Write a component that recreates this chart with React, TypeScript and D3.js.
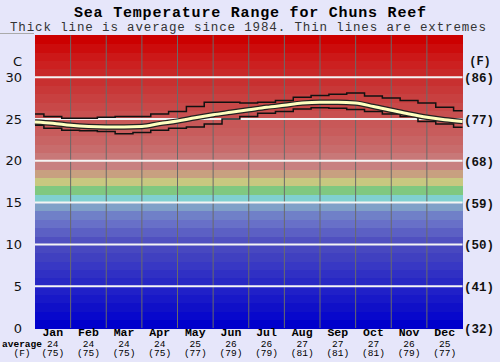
import React from 'react';
import * as d3 from 'd3';

// month positions (0 = 1 Jan, 12 = 31 Dec), sampled every half month
const samplePos = [0, 0.5, 1, 1.5, 2, 2.5, 3, 3.5, 4, 4.5, 5, 5.5, 6, 6.5, 7, 7.5, 8, 8.5, 9, 9.5, 10, 10.5, 11, 11.5, 12];
const avgTemp = [24.65, 24.5, 24.25, 24.1, 24.05, 24.05, 24.1, 24.45, 24.75, 25.15, 25.5, 25.8, 26.1, 26.4, 26.65, 26.9, 27.0, 27.0, 26.9, 26.5, 26.05, 25.6, 25.2, 24.9, 24.7];
const maxTemp = [25.6, 25.3, 25.1, 25.1, 25.2, 25.3, 25.3, 25.6, 25.9, 26.5, 27.0, 27.0, 26.9, 27.0, 27.2, 27.6, 27.8, 27.95, 28.1, 27.75, 27.5, 27.2, 26.9, 26.4, 26.0];
const minTemp = [24.25, 23.9, 23.65, 23.6, 23.5, 23.25, 23.4, 23.65, 23.9, 24.05, 24.4, 25.0, 25.3, 25.7, 25.9, 26.2, 26.35, 26.3, 26.15, 25.9, 25.6, 25.3, 24.7, 24.4, 24.0];

const months = ['Jan', 'Feb', 'Mar', 'Apr', 'May', 'Jun', 'Jul', 'Aug', 'Sep', 'Oct', 'Nov', 'Dec'];
const monthAvgC = [24, 24, 24, 24, 25, 26, 26, 27, 27, 27, 26, 25];
const monthAvgF = [75, 75, 75, 75, 77, 79, 79, 81, 81, 81, 79, 77];

const cTicks = [0, 5, 10, 15, 20, 25, 30];
const fTicks = [32, 41, 50, 59, 68, 77, 86];

// one colour per degree band, 0-1 C up to 34-35 C
const bandColors = [
  '#0000cc', '#0808cc', '#1010c8', '#1818c8', '#2020c8', '#2828c4', '#3030c4', '#3838c4', '#4040c0', '#4848c0',
  '#5050c0', '#5c60c4', '#6870c8', '#7080c8', '#80a0c8', '#80d0d0', '#80c880', '#c8c880', '#c8a080', '#c88080',
  '#c87878', '#c86c6c', '#c86464', '#c85c5c', '#c85858', '#c85050', '#c84848', '#c84040', '#c83838', '#c83030',
  '#c82828', '#cc2020', '#cc1818', '#cc0c0c', '#cc0000'
];

const W = 500;
const H = 362;
const mono = '"Liberation Mono", "Courier New", monospace';

export default function App() {
  const x = d3.scaleLinear().domain([0, 12]).range([35, 462.5]);
  const y = d3.scaleLinear().domain([0, 35]).range([328, 35.4]);

  const pts = (vals: number[]) => samplePos.map((p, i) => [p, vals[i]] as [number, number]);
  const stepLine = d3.line<[number, number]>().x(d => x(d[0])).y(d => y(d[1])).curve(d3.curveStep);
  const smoothLine = d3.line<[number, number]>().x(d => x(d[0])).y(d => y(d[1])).curve(d3.curveMonotoneX);

  return (
    <svg width={W} height={H} style={{ position: 'absolute', left: 0, top: 0, background: '#e6e6fa' }}>
      <rect x={0} y={0} width={W} height={H} fill="#e6e6fa" />
      <line x1={0} x2={34} y1={33.5} y2={33.5} stroke="#aaa" strokeWidth={1} />

      <text x={250} y={17} textAnchor="middle" fontFamily={mono} fontWeight="bold" fontSize={15} textLength={352} lengthAdjust="spacing">
        Sea Temperature Range for Chuns Reef
      </text>
      <text x={248} y={31} textAnchor="middle" fontFamily={mono} fontSize={12.5} fill="#333" textLength={476} lengthAdjust="spacing">
        Thick line is average since 1984. Thin lines are extremes
      </text>

      {/* colour bands */}
      <g shapeRendering="crispEdges">
        {bandColors.map((c, i) => (
          <rect key={i} x={x(0)} width={x(12) - x(0)} y={y(i + 1)} height={y(i) - y(i + 1) + 0.5} fill={c} />
        ))}
      </g>

      {/* month separators */}
      {d3.range(1, 12).map(m => (
        <line key={m} x1={x(m)} x2={x(m)} y1={y(35)} y2={y(0)} stroke="#6a6a6a" strokeWidth={1} />
      ))}

      {/* white grid lines */}
      {cTicks.filter(t => t > 0).map(t => (
        <line key={t} x1={x(0)} x2={x(12)} y1={y(t)} y2={y(t)} stroke="#f4f4f4" strokeWidth={2} />
      ))}

      {/* extremes */}
      <path d={stepLine(pts(maxTemp)) || ''} fill="none" stroke="#111" strokeWidth={1.5} />
      <path d={stepLine(pts(minTemp)) || ''} fill="none" stroke="#111" strokeWidth={1.5} />
      {/* average */}
      <path d={smoothLine(pts(avgTemp)) || ''} fill="none" stroke="#222" strokeWidth={5.5} />
      <path d={smoothLine(pts(avgTemp)) || ''} fill="none" stroke="#ffffc0" strokeWidth={3} />

      {/* left axis */}
      <text x={17.5} y={61} textAnchor="middle" dominantBaseline="central" fontFamily="DejaVu Sans, sans-serif" fontSize={13} fill="#111">C</text>
      {cTicks.map(t => (
        <text key={t} x={22} y={y(t)} textAnchor="end" dominantBaseline="central" fontFamily="DejaVu Sans, sans-serif" fontSize={13} fill="#111">{t}</text>
      ))}

      {/* right axis */}
      <text x={480} y={62} textAnchor="middle" dominantBaseline="central" fontFamily={mono} fontWeight="bold" fontSize={12} fill="#111">(F)</text>
      {fTicks.map((f, i) => (
        <text key={f} x={479} y={y(cTicks[i]) + 2} textAnchor="middle" dominantBaseline="central" fontFamily={mono} fontWeight="bold" fontSize={12.5} fill="#111">({f})</text>
      ))}

      {/* month labels */}
      {months.map((m, i) => (
        <g key={m}>
          <text x={x(i + 0.5)} y={336} textAnchor="middle" fontFamily={mono} fontWeight="bold" fontSize={11.5} fill="#000">{m}</text>
          <text x={x(i + 0.5)} y={346.5} textAnchor="middle" fontFamily={mono} fontSize={9.5} fill="#000">{monthAvgC[i]}</text>
          <text x={x(i + 0.5)} y={356} textAnchor="middle" fontFamily={mono} fontSize={9.5} fill="#000">({monthAvgF[i]})</text>
        </g>
      ))}
      <text x={22} y={346.5} textAnchor="middle" fontFamily={mono} fontWeight="bold" fontSize={9.5} fill="#000">average</text>
      <text x={22} y={356} textAnchor="middle" fontFamily={mono} fontSize={9.5} fill="#000">(F)</text>
    </svg>
  );
}
